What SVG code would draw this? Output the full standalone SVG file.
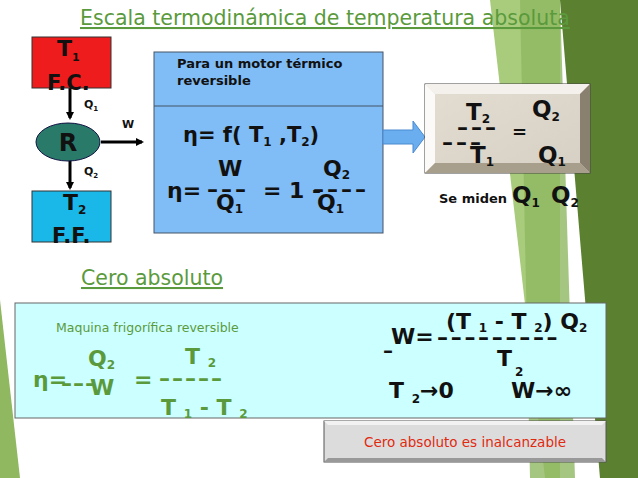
<svg xmlns="http://www.w3.org/2000/svg" width="638" height="478" viewBox="0 0 638 478">
<defs>
<marker id="ah" markerWidth="8" markerHeight="8" refX="6" refY="4" orient="auto" markerUnits="userSpaceOnUse"><path d="M0,0 L8,4 L0,8 Z" fill="#000"/></marker>
<linearGradient id="stone" x1="0" y1="0" x2="1" y2="1"><stop offset="0" stop-color="#e4ddd2"/><stop offset="1" stop-color="#d6cfc4"/></linearGradient>
</defs>
<style>
text{font-family:"DejaVu Sans","Liberation Sans",sans-serif;}
.b{font-weight:bold;fill:#111;}
.g{fill:#5a9a3c;}
.d{font-weight:bold;font-size:22px;letter-spacing:3px;}
</style>
<rect width="638" height="478" fill="#fff"/>
<g id="background">
<polygon points="490,0 560,0 560,478 545,478" fill="#a8cc7c"/>
<polygon points="560,0 638,0 638,478 600,478" fill="#5a8030"/>
<polygon points="520,0 560,0 575,478 530,478" fill="#8fb860" opacity="0.8"/>
<polygon points="0,300 20,478 0,478" fill="#8fb860"/>
</g>
<text x="80" y="25" class="g" font-size="20.5" text-decoration="underline">Escala termodinámica de temperatura absoluta </text>
<g id="connectors" stroke="#000" stroke-width="3" fill="none">
<line x1="70" y1="88" x2="70" y2="118" marker-end="url(#ah)"/>
<line x1="70" y1="160" x2="70" y2="188" marker-end="url(#ah)"/>
<line x1="101" y1="142" x2="142" y2="142" marker-end="url(#ah)"/>
</g>
<g id="fc"><rect x="32" y="37" width="79" height="51" fill="#ee1c1c" stroke="#333"/>
<text x="57" y="56" class="b" font-size="22">T<tspan font-size="11" dy="5">1</tspan></text>
<text x="47" y="90" class="b" font-size="21">F.C.</text></g>
<g id="r"><ellipse cx="68" cy="142" rx="32" ry="19" fill="#2a7a6a" stroke="#114"/>
<text x="68" y="151" class="b" font-size="24" text-anchor="middle">R</text></g>
<g id="ff"><rect x="32" y="191" width="79" height="51" fill="#1ab8e8" stroke="#333"/>
<text x="63" y="210" class="b" font-size="22">T<tspan font-size="12" dy="4">2</tspan></text>
<text x="52" y="243" class="b" font-size="21">F.F.</text></g>
<text x="84" y="108" class="b" font-size="11">Q<tspan font-size="7" dy="3">1</tspan></text>
<text x="84" y="175" class="b" font-size="11">Q<tspan font-size="7" dy="3">2</tspan></text>
<text x="122" y="128" class="b" font-size="11">W</text>
<g id="motor">
<rect x="154" y="52" width="229" height="181" fill="#80bcf6" stroke="#456"/>
<line x1="154" y1="106" x2="383" y2="106" stroke="#456"/>
<text x="177" y="68" class="b" font-size="13">Para un motor térmico</text>
<text x="177" y="85" class="b" font-size="13">reversible</text>
<text x="183" y="142" class="b" font-size="21">η= f( T<tspan font-size="12" dy="4">1</tspan><tspan dy="-4"> ,T</tspan><tspan font-size="12" dy="4">2</tspan><tspan dy="-4">)</tspan></text>
<text x="167" y="198" class="b" font-size="22">η=</text>
<text x="207" y="197" class="b d">–––</text>
<text x="263" y="198" class="b" font-size="22">= 1 -</text>
<text x="313" y="197" class="b d">––––</text>
<text x="218" y="176" class="b" font-size="22">W</text>
<text x="216" y="210" class="b" font-size="22">Q<tspan font-size="12" dy="3">1</tspan></text>
<text x="323" y="176" class="b" font-size="22">Q<tspan font-size="12" dy="3">2</tspan></text>
<text x="317" y="210" class="b" font-size="22">Q<tspan font-size="12" dy="3">1</tspan></text>
</g>
<polygon id="bigarrow" points="383,130 413,130 413,121 425,137 413,153 413,144 383,144" fill="#6aaef0" stroke="#4a8ad0"/>
<g id="stonebox">
<rect x="425" y="84" width="165" height="89" fill="url(#stone)" stroke="#444"/>
<polygon points="425,84 590,84 580,94 435,94" fill="#f4f1ec"/>
<polygon points="425,84 435,94 435,163 425,173" fill="#fbfaf8"/>
<polygon points="590,84 580,94 580,163 590,173" fill="#8a8070"/>
<polygon points="425,173 435,163 580,163 590,173" fill="#a89e8c"/>
<text x="466" y="120" class="b" font-size="23">T<tspan font-size="12" dy="3">2</tspan></text>
<text x="532" y="117" class="b" font-size="23">Q<tspan font-size="12" dy="4">2</tspan></text>
<text x="457" y="135" class="b d">–––</text>
<text x="512" y="138" class="b" font-size="18">=</text>
<text x="442" y="150" class="b d">–––</text>
<text x="470" y="163" class="b" font-size="23">T<tspan font-size="12" dy="3">1</tspan></text>
<text x="538" y="163" class="b" font-size="23">Q<tspan font-size="12" dy="3">1</tspan></text>
</g>
<text x="439" y="203" class="b" font-size="13">Se miden</text>
<text x="512" y="203" class="b" font-size="23">Q<tspan font-size="12" dy="4">1</tspan></text>
<text x="551" y="203" class="b" font-size="23">Q<tspan font-size="12" dy="4">2</tspan></text>
<text x="81" y="285" class="g" font-size="20.5" text-decoration="underline">Cero absoluto</text>
<g id="frigo">
<rect x="15" y="303" width="591" height="115" fill="#ccffff" stroke="#666"/>
<text x="56" y="332" class="g" font-size="12.5">Maquina frigorífica reversible</text>
<g class="g" font-weight="bold" font-size="22">
<text x="33" y="387">η=</text>
<text x="61" y="391" class="d" style="letter-spacing:1px">–––</text>
<text x="88" y="366">Q<tspan font-size="12" dy="3">2</tspan></text>
<text x="90" y="395">W</text>
<text x="134" y="387">=</text>
<text x="159" y="386" class="d" style="letter-spacing:2px">–––––</text>
<text x="185" y="364">T <tspan font-size="12" dy="3">2</tspan></text>
<text x="161" y="415">T <tspan font-size="12" dy="3">1</tspan><tspan dy="-3"> - T </tspan><tspan font-size="12" dy="3">2</tspan></text>
</g>
<text x="446" y="329" class="b" font-size="22">(T <tspan font-size="12" dy="3">1</tspan><tspan dy="-3"> - T </tspan><tspan font-size="12" dy="3">2</tspan><tspan dy="-3">) Q</tspan><tspan font-size="12" dy="3">2</tspan></text>
<text x="391" y="344" class="b" font-size="22">W=</text>
<text x="437" y="345" class="b d" style="letter-spacing:2.7px">–––––––––</text>
<text x="383" y="357" class="b" font-size="20">–</text>
<text x="497" y="366" class="b" font-size="22">T</text>
<text x="515" y="376" class="b" font-size="12">2</text>
<text x="389" y="398" class="b" font-size="22">T <tspan font-size="12" dy="5">2</tspan><tspan dy="-5">→0</tspan></text>
<text x="511" y="398" class="b" font-size="22">W→∞</text>
</g>
<g id="inalc">
<rect x="324" y="421" width="282" height="41" fill="#dcdcdc" stroke="#555"/>
<polygon points="324,421 606,421 602,425 328,425" fill="#f2f2f2"/>
<polygon points="324,462 328,458 602,458 606,462" fill="#999"/>
<text x="465" y="447" font-size="13.5" fill="#e02a10" text-anchor="middle">Cero absoluto es inalcanzable</text>
</g>
</svg>
